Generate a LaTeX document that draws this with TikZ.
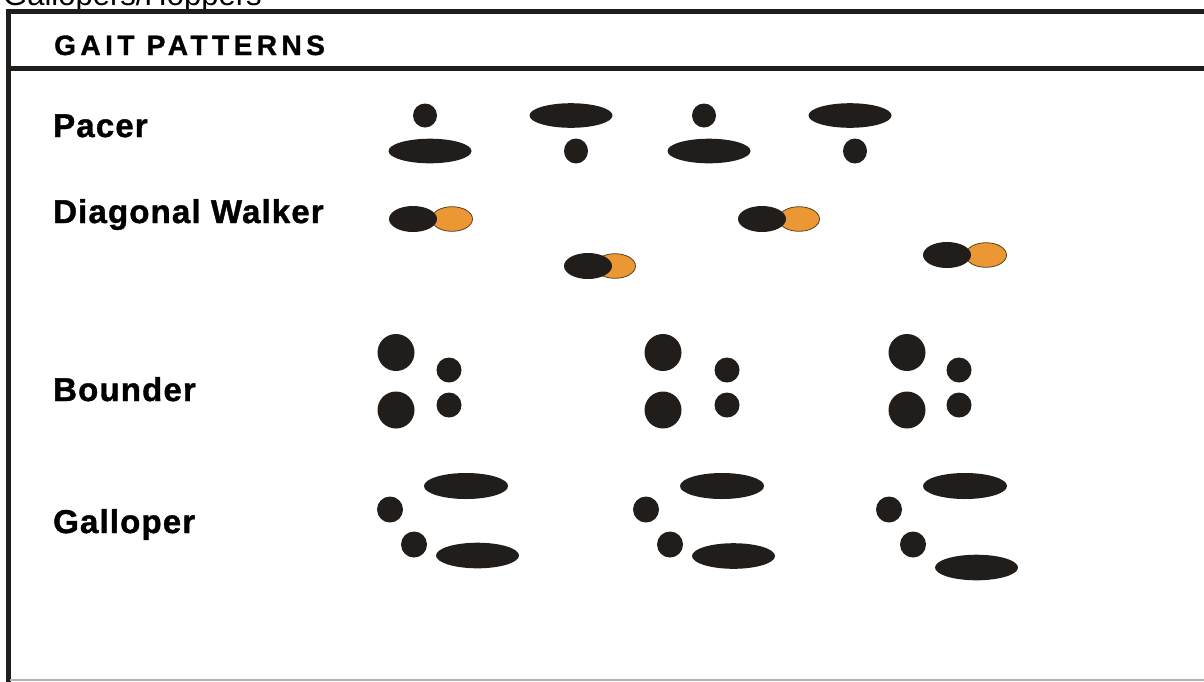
\documentclass[tikz,border=0pt]{standalone}
\usepackage{fontspec}
\setmainfont{Liberation Sans}
\newfontfamily\gaitfont[LetterSpace=3.5, FakeBold=1.2]{Liberation Sans Bold}
\newfontfamily\headfont[LetterSpace=16, FakeBold=1.2]{Liberation Sans Bold}
\definecolor{paw}{RGB}{33,29,27}
\definecolor{pawor}{RGB}{234,151,52}

\begin{document}
\begin{tikzpicture}[x=1pt, y=-1pt,
  gait/.style={anchor=base west, inner sep=0pt,
    font=\fontsize{33}{38}\gaitfont},
  frame/.style={line width=5pt, draw=paw}]
  \useasboundingbox (0,0) rectangle (1204,681);
  % caption above the frame (cut off by the page)
  \node[anchor=base west, inner sep=0pt, font=\fontsize{31}{36}\selectfont]
    (capt) at (3,5) {Gallopers/Hoppers};
  % frame and header
  \draw[frame, line join=miter] (1210,11.5) -- (8,11.5) -- (8,690);
  \draw[frame] (8,68.5) -- (1210,68.5);
  \draw[gray!60, line width=1.5pt] (10,680) -- (1210,680);
  \node[anchor=base west, inner sep=0pt,
    font=\fontsize{28}{32}\headfont] (head) at (54,55) {GAIT PATTERNS};
  % row labels
  \node[gait] (pacer) at (53,137) {Pacer};
  \node[gait] (diag) at (53,223) {Diagonal Walker};
  \node[gait] (bound) at (53,401) {Bounder};
  \node[gait] (gallop) at (53,533) {Galloper};
  % pacer
  \foreach \dx in {0,279}{
    \fill[paw] (425+\dx,115.5) circle (12);
    \fill[paw] (430+\dx,151) ellipse (41.5 and 12.3);
    \fill[paw] (571+\dx,115.5) ellipse (41.5 and 12.3);
    \fill[paw] (576+\dx,151) ellipse (12 and 12.5);
  }
  % diagonal walker: hind (orange) under fore (black)
  \foreach \bx/\ox/\y in {413/452/219, 588/615/266, 762/799/219, 947/986/255}{
    \filldraw[fill=pawor, draw=paw!70!pawor, line width=0.8pt]
      (\ox,\y) ellipse (20.5 and 12.3);
    \fill[paw] (\bx,\y) ellipse (24 and 13);
  }
  % bounder
  \foreach \bx/\sx in {396/449, 663/727, 907/959}{
    \fill[paw] (\bx,352.5) circle (18.5);
    \fill[paw] (\bx,410) circle (18.5);
    \fill[paw] (\sx,370) circle (12.5);
    \fill[paw] (\sx,405) circle (12.5);
  }
  % galloper
  \foreach \dx/\yb in {0/555.5, 256/556, 499/567.5}{
    \fill[paw] (390+\dx,509.5) circle (13);
    \fill[paw] (414+\dx,544.5) circle (13);
    \fill[paw] (466+\dx,486) ellipse (42 and 13);
    \fill[paw] (477.5+\dx,\yb) ellipse (41.5 and 12.8);
  }
\end{tikzpicture}
\end{document}
